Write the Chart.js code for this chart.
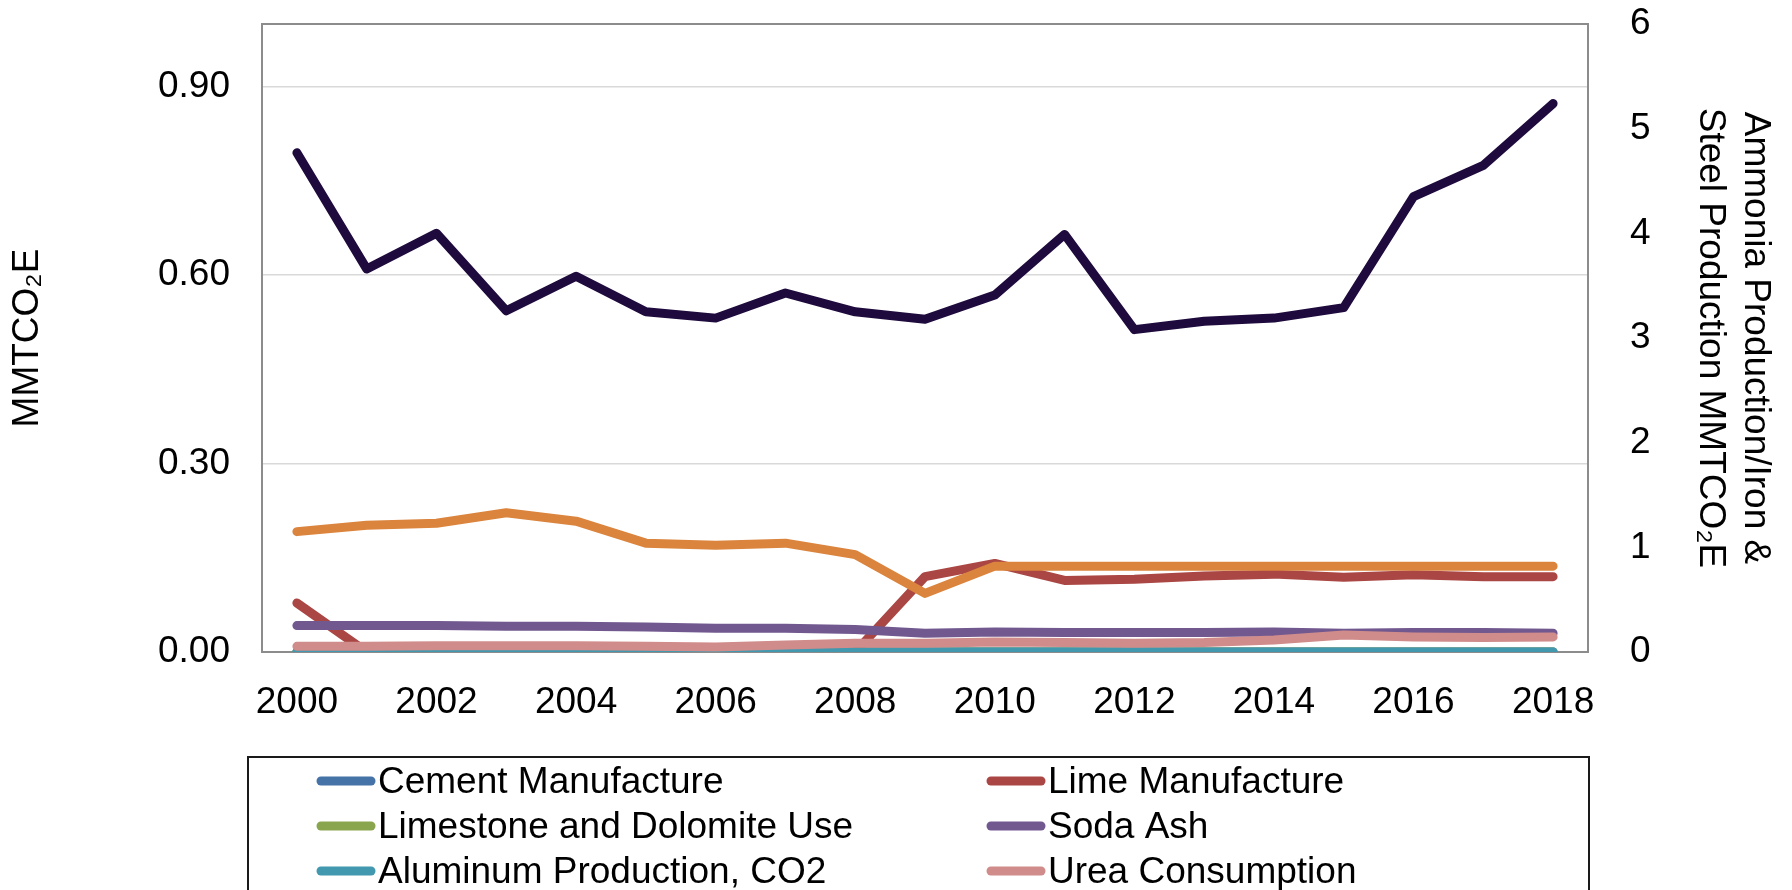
<!DOCTYPE html>
<html>
<head>
<meta charset="utf-8">
<script src="https://cdn.jsdelivr.net/npm/chart.js@4.4.1/dist/chart.umd.min.js"></script>
<style>
  html, body { margin: 0; padding: 0; background: #fff; overflow: hidden; }
  #wrap { position: relative; width: 1792px; height: 890px; }
</style>
</head>
<body>
<div id="wrap"><canvas id="chart"></canvas></div>
<script>
// Years on the x axis
var years = ["2000", "2001", "2002", "2003", "2004", "2005", "2006", "2007", "2008", "2009",
             "2010", "2011", "2012", "2013", "2014", "2015", "2016", "2017", "2018"];

// Left axis series (MMTCO2E)
var cement    = [0, 0, 0, 0, 0, 0, 0, 0, 0, 0, 0, 0, 0, 0, 0, 0, 0, 0, 0];
var lime      = [0.078, 0, 0, 0, 0, 0, 0, 0, 0, 0.120, 0.141, 0.114, 0.116, 0.121, 0.124, 0.119, 0.123, 0.120, 0.120];
var limestone = [0, 0, 0, 0, 0, 0, 0, 0, 0, 0, 0, 0, 0, 0, 0, 0, 0, 0, 0];
var sodaAsh   = [0.042, 0.042, 0.042, 0.041, 0.041, 0.040, 0.038, 0.038, 0.036, 0.030, 0.032, 0.031, 0.031, 0.031, 0.032, 0.030, 0.031, 0.031, 0.030];
var aluminum  = [0, 0, 0, 0, 0, 0, 0, 0, 0, 0, 0, 0, 0, 0, 0, 0, 0, 0, 0];
var urea      = [0.009, 0.009, 0.010, 0.010, 0.010, 0.009, 0.008, 0.011, 0.014, 0.014, 0.016, 0.015, 0.014, 0.015, 0.019, 0.027, 0.024, 0.023, 0.024];

// Right axis series (MMTCO2E)
var ammonia   = [1.15, 1.21, 1.23, 1.33, 1.25, 1.04, 1.02, 1.04, 0.93, 0.56, 0.82, 0.82, 0.82, 0.82, 0.82, 0.82, 0.82, 0.82, 0.82];
var ironSteel = [4.77, 3.66, 4.00, 3.26, 3.59, 3.25, 3.19, 3.43, 3.25, 3.18, 3.41, 3.99, 3.08, 3.16, 3.19, 3.29, 4.35, 4.65, 5.24];

var seriesNames = ["Cement Manufacture", "Lime Manufacture", "Limestone and Dolomite Use", "Soda Ash",
                   "Aluminum Production, CO2", "Urea Consumption", "Ammonia Production", "Iron and Steel Production"];
var seriesColors = ["#4572A7", "#AA4643", "#89A54E", "#71588F", "#4198AF", "#D08C8B", "#DB843D", "#1E0A3C"];
var seriesData = [cement, lime, limestone, sodaAsh, aluminum, urea, ammonia, ironSteel];
var seriesAxis = ["y", "y", "y", "y", "y", "y", "y1", "y1"];

var leftTicks = [0, 0.3, 0.6, 0.9];

var FONT = "'Liberation Sans', Arial, sans-serif";
Chart.defaults.font.family = FONT;
Chart.defaults.font.size = 37;
Chart.defaults.color = "#000";

var datasets = seriesData.map(function (d, i) {
    return {
        label: seriesNames[i],
        data: d,
        yAxisID: seriesAxis[i],
        borderColor: seriesColors[i],
        backgroundColor: seriesColors[i],
        borderWidth: 9,
        borderCapStyle: "round",
        borderJoinStyle: "round",
        pointRadius: 0,
        tension: 0,
        fill: false,
        order: 20 - i   // later series drawn on top
    };
});

// plot frame, under the lines
var framePlugin = {
    id: "frame",
    beforeDatasetsDraw: function (chart) {
        var a = chart.chartArea, ctx = chart.ctx;
        ctx.save();
        ctx.strokeStyle = "#8C8C8C";
        ctx.lineWidth = 2;
        ctx.strokeRect(a.left, a.top, a.right - a.left, a.bottom - a.top);
        ctx.restore();
    }
};

// boxed two-column legend below the chart
var legendPlugin = {
    id: "boxLegend",
    afterDraw: function (chart) {
        var ctx = chart.ctx;
        ctx.save();
        ctx.strokeStyle = "#1a1a1a";
        ctx.lineWidth = 2;
        ctx.strokeRect(248, 757, 1341, 220);
        var symX = [317, 987], txtX = [378, 1048];
        ctx.font = "37px " + FONT;
        ctx.textBaseline = "middle";
        ctx.fillStyle = "#000";
        chart.data.datasets.forEach(function (ds, i) {
            var col = i % 2, row = Math.floor(i / 2);
            var y = 781 + row * 45;
            ctx.strokeStyle = ds.borderColor;
            ctx.lineWidth = 9;
            ctx.lineCap = "round";
            ctx.beginPath();
            ctx.moveTo(symX[col] + 4, y);
            ctx.lineTo(symX[col] + 54, y);
            ctx.stroke();
            ctx.fillText(ds.label, txtX[col], y + 2);
        });
        ctx.restore();
    }
};

function noPad(s) {
    s.paddingTop = 0;
    s.paddingBottom = 0;
}

new Chart(document.getElementById("chart"), {
    type: "line",
    data: { labels: years, datasets: datasets },
    plugins: [framePlugin, legendPlugin],
    options: {
        responsive: true,
        maintainAspectRatio: false,
        animation: false,
        layout: { padding: { top: 24, left: 0, right: 0, bottom: 0 } },
        plugins: { legend: { display: false }, tooltip: { enabled: false } },
        scales: {
            x: {
                type: "category",
                offset: true,
                grid: { display: false },
                border: { display: false },
                ticks: {
                    autoSkip: false,
                    maxRotation: 0,
                    padding: 21,
                    callback: function (v, i) { return i % 2 === 0 ? years[i] : ""; }
                },
                afterFit: function (s) { s.height = 238; }
            },
            y: {
                position: "left",
                min: 0,
                max: 1,
                ticks: {
                    stepSize: 0.3,
                    padding: 32,
                    callback: function (v) { return v.toFixed(2); }
                },
                afterBuildTicks: function (s) {
                    s.ticks = leftTicks.map(function (v) { return { value: v }; });
                },
                grid: {
                    drawTicks: false,
                    lineWidth: 1.5,
                    color: function (c) { return c.tick && c.tick.value === 0 ? "rgba(0,0,0,0)" : "#D9D9D9"; }
                },
                border: { display: false },
                title: {
                    display: true,
                    text: "MMTCO\u2082E",
                    font: { size: 37, lineHeight: 1.2 },
                    padding: { top: 6, bottom: 0 }
                },
                afterFit: function (s) { s.width = 262; noPad(s); }
            },
            y1: {
                position: "right",
                min: 0,
                max: 6,
                ticks: { stepSize: 1, padding: 34 },
                grid: { display: false },
                border: { display: false },
                title: {
                    display: true,
                    text: ["Ammonia Production/Iron &", "Steel Production MMTCO\u2082E"],
                    font: { size: 37, lineHeight: 1.22 },
                    padding: { top: 14, bottom: 0 }
                },
                afterFit: function (s) { s.width = 204; noPad(s); }
            }
        }
    }
});
</script>
</body>
</html>
